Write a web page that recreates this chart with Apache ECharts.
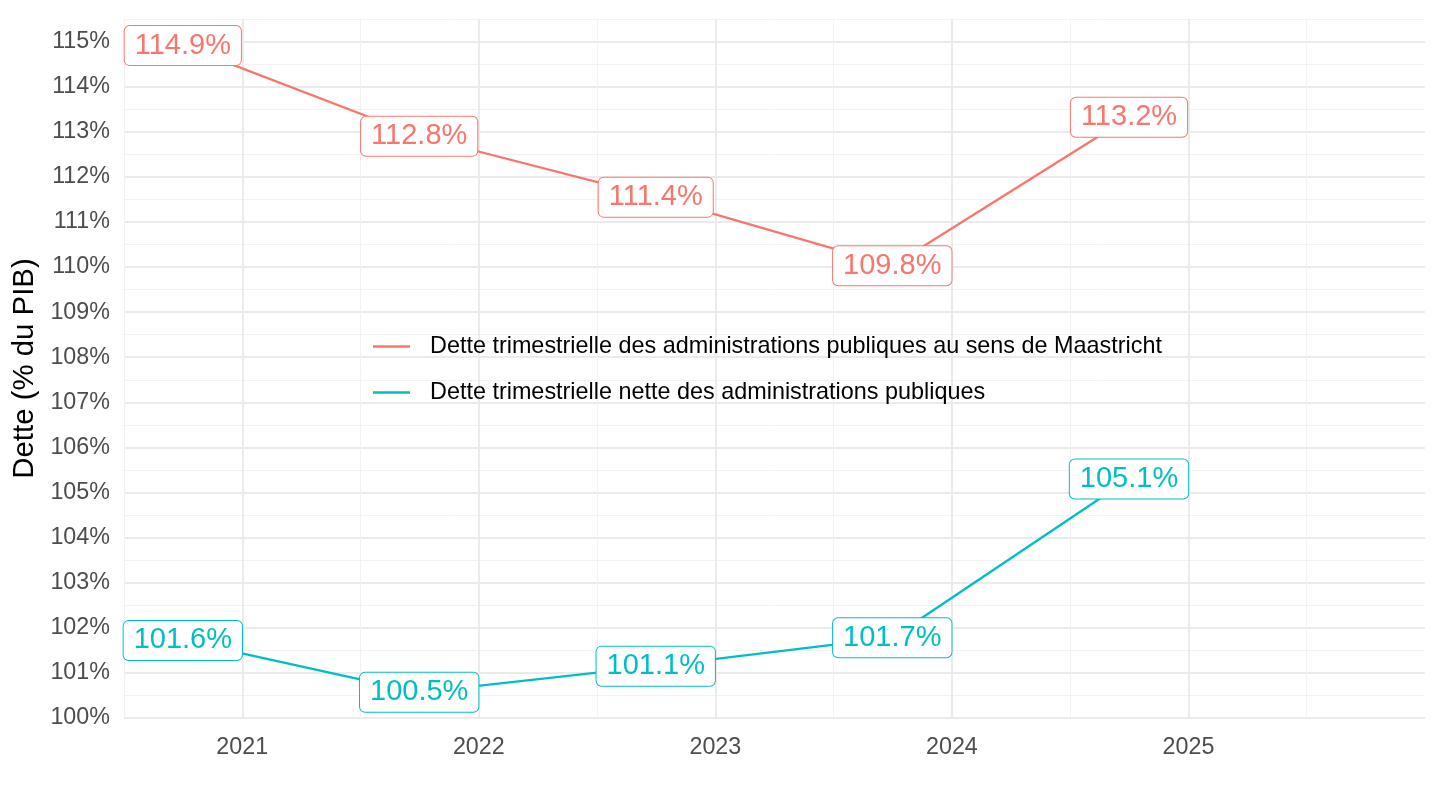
<!DOCTYPE html>
<html>
<head>
<meta charset="utf-8">
<script src="https://cdn.jsdelivr.net/npm/echarts@6/dist/echarts.min.js"></script>
<style>
html,body{margin:0;padding:0;background:#fff;}
#chart{width:1440px;height:810px;}
</style>
</head>
<body>
<div id="chart"></div>
<script>
// Data
const dates = ['2020-10-01', '2021-10-01', '2022-10-01', '2023-10-01', '2024-10-01'];
const seriesNames = [
  'Dette trimestrielle des administrations publiques au sens de Maastricht',
  'Dette trimestrielle nette des administrations publiques'
];
const maastrichtValues = [114.91, 112.90, 111.55, 110.03, 113.32];
const maastrichtLabels = ['114.9%', '112.8%', '111.4%', '109.8%', '113.2%'];
const netValues = [101.72, 100.57, 101.15, 101.78, 105.30];
const netLabels = ['101.6%', '100.5%', '101.1%', '101.7%', '105.1%'];
const colors = ['#F8766D', '#00BFC4'];

function dateToYear(s) {
  const d = new Date(s + 'T00:00:00Z');
  const y = d.getUTCFullYear();
  const start = Date.UTC(y, 0, 1), end = Date.UTC(y + 1, 0, 1);
  return y + (d.getTime() - start) / (end - start);
}
const xs = dates.map(dateToYear);

const FONT = '"Liberation Sans", Arial, Helvetica, sans-serif';
const MAJOR = '#EBEBEB', MINOR = '#F2F2F2', NONE = 'rgba(0,0,0,0)';

function makeSeries(name, values, labels, color) {
  return {
    name: name,
    type: 'line',
    xAxisIndex: 0, yAxisIndex: 0,
    data: xs.map((x, i) => [x, values[i]]),
    symbol: 'circle', symbolSize: 2, showSymbol: true,
    itemStyle: { color: color },
    lineStyle: { color: color, width: 2.3 },
    animation: false,
    label: {
      show: true, position: 'inside',
      formatter: p => labels[p.dataIndex],
      color: color, fontFamily: FONT, fontSize: 29,
      backgroundColor: '#fff', borderColor: color, borderWidth: 1,
      borderRadius: 5, padding: [5, 10]
    },
    emphasis: { disabled: true }
  };
}

const chart = echarts.init(document.getElementById('chart'), null, { renderer: 'canvas' });
chart.setOption({
  backgroundColor: '#fff',
  animation: false,
  grid: { left: 124, right: 15, top: 19, bottom: 92, containLabel: false, outerBoundsMode: 'none' },
  legend: {
    orient: 'vertical', left: 373, top: 335, padding: 0,
    itemWidth: 37, itemHeight: 2.3, itemGap: 23,
    icon: 'rect',
    data: seriesNames,
    textStyle: { fontFamily: FONT, fontSize: 23.4, color: '#000', padding: [0, 0, 0, 15] },
    selectedMode: false
  },
  xAxis: [{
    type: 'value', min: 2020.5, max: 2026, interval: 0.5,
    axisLine: { show: false }, axisTick: { show: false },
    axisLabel: {
      formatter: v => Number.isInteger(v) ? String(v) : '',
      showMaxLabel: false, margin: 18,
      fontFamily: FONT, fontSize: 23.3, color: '#4D4D4D'
    },
    splitLine: { show: true, showMaxLine: false, lineStyle: { color: [NONE, MAJOR], width: 2 } }
  }, {
    type: 'value', min: 2020.5, max: 2026, interval: 0.5, position: 'bottom',
    axisLine: { show: false }, axisTick: { show: false }, axisLabel: { show: false },
    splitLine: { show: true, showMaxLine: false, lineStyle: { color: [MINOR, NONE], width: 1 } }
  }],
  yAxis: [{
    type: 'value', min: 100, max: 115.5, interval: 0.5,
    name: 'Dette (% du PIB)', nameLocation: 'middle', nameGap: 84, nameRotate: 90,
    nameTextStyle: { fontFamily: FONT, fontSize: 29.4, color: '#000' },
    axisLine: { show: false }, axisTick: { show: false },
    axisLabel: {
      formatter: v => Number.isInteger(v) ? v + '%' : '',
      margin: 14, fontFamily: FONT, fontSize: 23.3, color: '#4D4D4D'
    },
    splitLine: { show: true, lineStyle: { color: [MAJOR, NONE], width: 2 } }
  }, {
    type: 'value', min: 100, max: 115.5, interval: 0.5, position: 'left',
    axisLine: { show: false }, axisTick: { show: false }, axisLabel: { show: false },
    splitLine: { show: true, lineStyle: { color: [NONE, MINOR], width: 1 } }
  }],
  series: [
    makeSeries(seriesNames[0], maastrichtValues, maastrichtLabels, colors[0]),
    makeSeries(seriesNames[1], netValues, netLabels, colors[1])
  ]
});
</script>
</body>
</html>
